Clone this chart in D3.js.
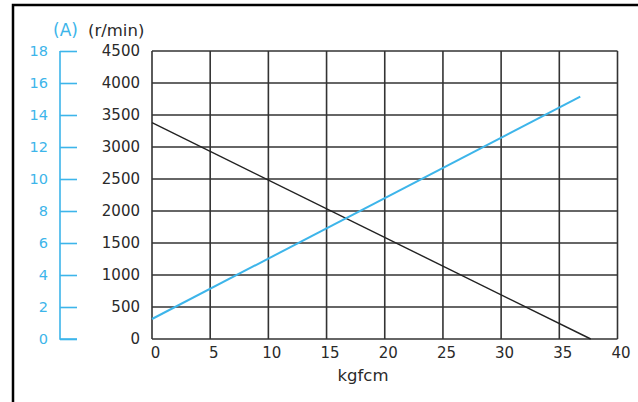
<!DOCTYPE html>
<html>
<head>
<meta charset="utf-8">
<script src="https://cdn.jsdelivr.net/npm/d3@7"></script>
<style>
  body { margin: 0; background: #fff; }
  text { font-family: "DejaVu Sans", sans-serif; }
</style>
</head>
<body>
<div id="chart"></div>
<script>
'use strict'

// torque axis (kgfcm)
var xTicks = [0, 5, 10, 15, 20, 25, 30, 35, 40]
// speed axis (r/min)
var rpmTicks = [0, 500, 1000, 1500, 2000, 2500, 3000, 3500, 4000, 4500]
// current axis (A)
var ampTicks = [0, 2, 4, 6, 8, 10, 12, 14, 16, 18]

// speed curve: [torque, r/min]
var speedLine = [[0, 3380], [37.7, 0]]
// current curve: [torque, A]
var currentLine = [[0, 1.25], [36.8, 15.15]]

var width = 638
var height = 402
var margin = {left: 152, top: 51, right: 20, bottom: 62}
var blue = "#3db5ea"
var ink = "#2a2a2a"

const svg = d3.select("#chart")
              .append("svg")
              .attr("width", width)
              .attr("height", height)

// frame (top and left edges only)
svg.append("path")
   .attr("d", "M13,402 V5 H638")
   .attr("fill", "none")
   .attr("stroke", "#000")
   .attr("stroke-width", 2.5)

var xScale = d3.scaleLinear()
               .domain([0, 40])
               .range([margin.left, width - margin.right - 0.5])

var yScale = d3.scaleLinear()
               .domain([0, 4500])
               .range([height - margin.bottom - 1, margin.top])

var aScale = d3.scaleLinear()
               .domain([0, 18])
               .range([height - margin.bottom - 1, margin.top])

// grid
svg.selectAll("vGrid")
   .data(xTicks)
   .enter()
   .append("line")
   .attr("x1", (d) => xScale(d))
   .attr("x2", (d) => xScale(d))
   .attr("y1", yScale(0))
   .attr("y2", yScale(4500))
   .attr("stroke", "#333")
   .attr("stroke-width", 1.6)

svg.selectAll("hGrid")
   .data(rpmTicks)
   .enter()
   .append("line")
   .attr("x1", xScale(0))
   .attr("x2", xScale(40))
   .attr("y1", (d) => yScale(d))
   .attr("y2", (d) => yScale(d))
   .attr("stroke", "#333")
   .attr("stroke-width", 1.6)

// x axis labels
var xAxis = d3.axisBottom(xScale).tickValues(xTicks).tickSize(0).tickPadding(8)
svg.append("g")
   .attr("transform", "translate(3," + yScale(0) + ")")
   .call(xAxis)
   .call(g => g.select(".domain").remove())
   .selectAll("text")
   .attr("fill", ink)
   .style("font-size", "15px")

// r/min axis labels
var yAxis = d3.axisLeft(yScale).tickValues(rpmTicks).tickSize(0).tickPadding(12).tickFormat(d3.format("d"))
svg.append("g")
   .attr("transform", "translate(" + margin.left + ",0)")
   .call(yAxis)
   .call(g => g.select(".domain").remove())
   .selectAll("text")
   .attr("fill", ink)
   .style("font-size", "15px")

// current axis (blue)
var aAxis = d3.axisRight(aScale).tickValues(ampTicks).tickSize(17).tickFormat(d3.format("d"))
const ag = svg.append("g")
   .attr("transform", "translate(60,0)")
   .call(aAxis)
ag.select(".domain").attr("d", "M0," + aScale(18) + "V" + aScale(0) + "H17").attr("stroke", blue).attr("stroke-width", 1.6)
ag.selectAll(".tick line").attr("stroke", blue).attr("stroke-width", 1.6)
ag.selectAll(".tick text")
  .attr("x", -12)
  .attr("text-anchor", "end")
  .attr("fill", blue)
  .style("font-size", "14.5px")

// unit headers
svg.append("text")
   .attr("x", 53)
   .attr("y", 36)
   .attr("fill", blue)
   .style("font-size", "17px")
   .text("(A)")

svg.append("text")
   .attr("x", 88)
   .attr("y", 36)
   .attr("fill", ink)
   .style("font-size", "16.5px")
   .text("(r/min)")

svg.append("text")
   .attr("x", 363)
   .attr("y", 381)
   .attr("text-anchor", "middle")
   .attr("fill", ink)
   .style("font-size", "16.5px")
   .text("kgfcm")

// curves
svg.append("path")
   .datum(speedLine)
   .attr("d", d3.line().x((d) => xScale(d[0])).y((d) => yScale(d[1])))
   .attr("fill", "none")
   .attr("stroke", "#222")
   .attr("stroke-width", 1.4)

svg.append("path")
   .datum(currentLine)
   .attr("d", d3.line().x((d) => xScale(d[0])).y((d) => aScale(d[1])))
   .attr("fill", "none")
   .attr("stroke", blue)
   .attr("stroke-width", 2)
</script>
</body>
</html>
